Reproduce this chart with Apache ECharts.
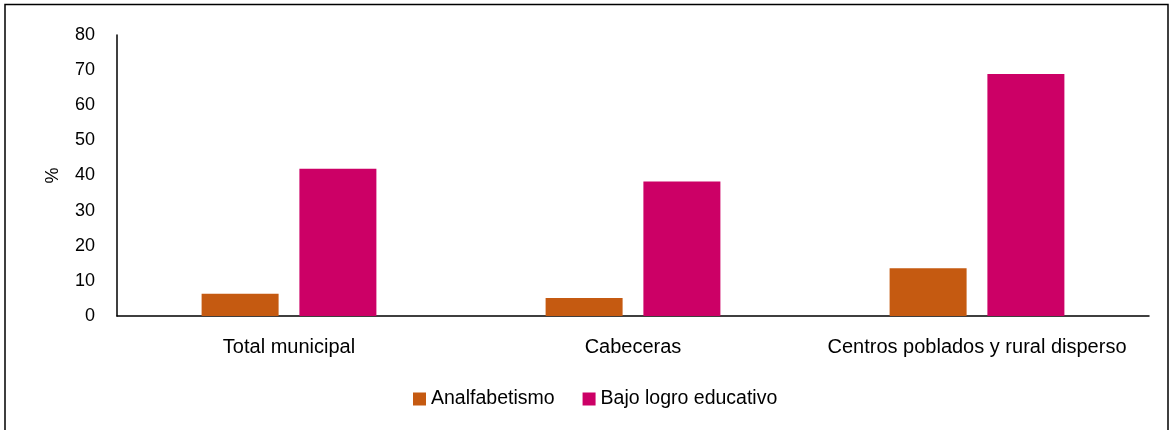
<!DOCTYPE html>
<html>
<head>
<meta charset="utf-8">
<script src="https://cdn.jsdelivr.net/npm/echarts@6/dist/echarts.min.js"></script>
<style>
html,body{margin:0;padding:0;background:#fff;}
#c{width:1171px;height:430px;}
</style>
</head>
<body>
<div id="c"></div>
<script>
const categories = ['Total municipal', 'Cabeceras', 'Centros poblados y rural disperso'];
const analfabetismo = [6.3, 5.1, 13.6];
const bajoLogro = [41.9, 38.3, 68.9];
const seriesNames = ['Analfabetismo', 'Bajo logro educativo'];
const yTicks = {min: 0, max: 80, interval: 10};

const chart = echarts.init(document.getElementById('c'), null, {renderer: 'canvas'});
const font = 'Liberation Sans, Arial, sans-serif';
chart.setOption({
  animation: false,
  backgroundColor: '#fff',
  textStyle: {fontFamily: font},
  graphic: [{
    type: 'rect',
    shape: {x: 5, y: 4.5, width: 1163, height: 440},
    style: {fill: 'none', stroke: '#000', lineWidth: 1.5},
    silent: true
  }],
  legend: {
    data: seriesNames,
    left: 408,
    top: 384,
    itemWidth: 13,
    itemHeight: 13,
    itemGap: 28,
    icon: 'rect',
    textStyle: {fontFamily: font, fontSize: 19.5, color: '#000'}
  },
  grid: {left: 117, right: 22, top: 35, bottom: 114, containLabel: false},
  xAxis: {
    type: 'category',
    data: categories,
    axisLine: {lineStyle: {color: '#000', width: 1.5}},
    axisTick: {show: false},
    axisLabel: {color: '#000', fontSize: 20, fontFamily: font, margin: 21, interval: 0}
  },
  yAxis: {
    type: 'value',
    min: yTicks.min, max: yTicks.max, interval: yTicks.interval,
    name: '%',
    nameLocation: 'middle',
    nameGap: 55,
    nameRotate: 90,
    nameTextStyle: {color: '#000', fontSize: 18, fontFamily: font},
    axisLine: {show: true, lineStyle: {color: '#000', width: 1.5}},
    axisTick: {show: false},
    splitLine: {show: false},
    axisLabel: {color: '#000', fontSize: 18, fontFamily: font, margin: 22}
  },
  series: [
    {name: seriesNames[0], type: 'bar', data: analfabetismo, barWidth: 77, barGap: '27%', itemStyle: {color: '#C55A11'}},
    {name: seriesNames[1], type: 'bar', data: bajoLogro, barWidth: 77, itemStyle: {color: '#CC0066'}}
  ]
});
</script>
</body>
</html>
